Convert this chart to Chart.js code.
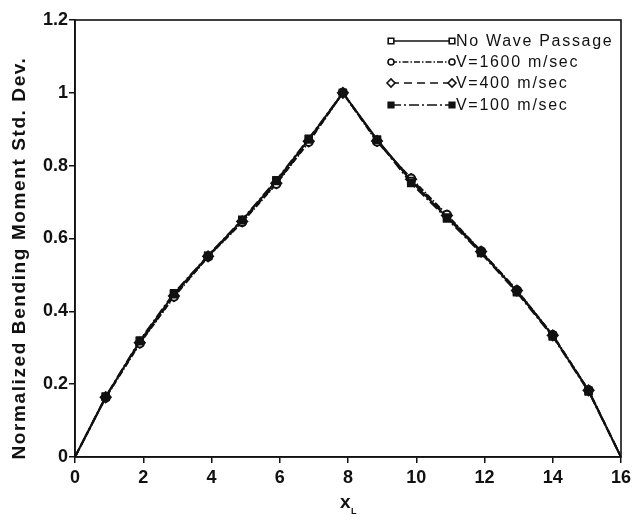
<!DOCTYPE html>
<html>
<head>
<meta charset="utf-8">
<script src="https://cdn.jsdelivr.net/npm/chart.js@4"></script>
<style>
  html, body { margin: 0; padding: 0; background: #fff; }
  #wrap { width: 641px; height: 528px; }
</style>
</head>
<body>
<div id="wrap"><canvas id="myChart" width="641" height="528"></canvas></div>
<script>
// positions along the beam (x/L) and normalized std. dev. per case
const xPos = [0, 0.9, 1.9, 2.9, 3.9, 4.9, 5.9, 6.85, 7.85, 8.85, 9.85, 10.9, 11.9, 12.95, 14.0, 15.05, 16];
const noWave = [0, 0.165, 0.318, 0.447, 0.552, 0.650, 0.758, 0.872, 1.0, 0.872, 0.758, 0.658, 0.563, 0.455, 0.333, 0.182, 0];
const v1600  = [0, 0.163, 0.312, 0.440, 0.550, 0.645, 0.750, 0.865, 1.0, 0.866, 0.765, 0.665, 0.565, 0.458, 0.335, 0.183, 0];
const v400   = [0, 0.164, 0.314, 0.442, 0.551, 0.647, 0.752, 0.867, 1.0, 0.868, 0.763, 0.663, 0.564, 0.457, 0.334, 0.183, 0];
const v100   = [0, 0.166, 0.320, 0.450, 0.553, 0.652, 0.760, 0.874, 1.0, 0.870, 0.752, 0.655, 0.560, 0.452, 0.331, 0.180, 0];
const seriesNames = ['No Wave Passage', 'V=1600 m/sec', 'V=400 m/sec', 'V=100 m/sec'];
const yTicks = [0, 0.2, 0.4, 0.6, 0.8, 1, 1.2];
const xTicks = [0, 2, 4, 6, 8, 10, 12, 14, 16];
const yTitle = 'Normalized Bending Moment Std. Dev.';

const FONT = '"Liberation Sans", Arial, sans-serif';

function toPoints(ys) {
    return xPos.map((x, i) => ({ x: x, y: ys[i] }));
}

const isEnd = (c) => c.dataIndex === 0 || c.dataIndex === xPos.length - 1;

const styles = [
    { dash: [], point: 'rect', fill: '#fff', r: 4.5 },
    { dash: [6, 2, 1.5, 2], point: 'circle', fill: '#fff', r: 4 },
    { dash: [8, 5], point: 'rectRot', fill: '#fff', r: 5 },
    { dash: [10, 3, 2, 3], point: 'rect', fill: '#111', r: 4.5 }
];

const allSeries = [noWave, v1600, v400, v100];

const datasets = allSeries.map((ys, i) => ({
    label: seriesNames[i],
    data: toPoints(ys),
    order: i === 3 ? 0 : i + 1,
    showLine: true,
    borderColor: '#111',
    borderWidth: 2,
    borderDash: styles[i].dash,
    pointStyle: styles[i].point,
    pointRadius: (c) => isEnd(c) ? 0 : styles[i].r,
    pointBackgroundColor: styles[i].fill,
    pointBorderColor: '#111',
    pointBorderWidth: 2
}));

function drawMarker(ctx, st, x, y) {
    const r = st.r - 1;
    ctx.save();
    ctx.setLineDash([]);
    ctx.lineWidth = 1.6;
    ctx.fillStyle = st.fill;
    ctx.strokeStyle = '#111';
    ctx.beginPath();
    if (st.point === 'circle') {
        ctx.arc(x, y, r, 0, Math.PI * 2);
    } else if (st.point === 'rectRot') {
        ctx.moveTo(x - r, y); ctx.lineTo(x, y - r); ctx.lineTo(x + r, y); ctx.lineTo(x, y + r); ctx.closePath();
    } else {
        ctx.rect(x - r * 0.8, y - r * 0.8, r * 1.6, r * 1.6);
    }
    ctx.fill();
    ctx.stroke();
    ctx.restore();
}

// frame, legend and axis titles
const extras = {
    id: 'extras',
    afterDraw(chart) {
        const ctx = chart.ctx;
        const a = chart.chartArea;
        ctx.save();
        ctx.strokeStyle = '#111';
        ctx.lineWidth = 1.6;
        ctx.strokeRect(a.left, a.top, a.right - a.left, a.bottom - a.top);

        // legend
        const x0 = 391, x1 = 452;
        const rows = [41, 62, 83, 105];
        seriesNames.forEach((name, i) => {
            const y = rows[i];
            ctx.save();
            ctx.strokeStyle = '#111';
            ctx.lineWidth = 1.6;
            ctx.setLineDash(styles[i].dash);
            ctx.beginPath();
            ctx.moveTo(x0, y);
            ctx.lineTo(x1, y);
            ctx.stroke();
            ctx.restore();
            drawMarker(ctx, styles[i], x0, y);
            drawMarker(ctx, styles[i], x1, y);
            ctx.fillStyle = '#111';
            ctx.font = '16px ' + FONT;
            ctx.letterSpacing = '1.7px';
            ctx.textBaseline = 'middle';
            ctx.textAlign = 'left';
            ctx.fillText(name, x1 + 4, y + 1);
            ctx.letterSpacing = '0px';
        });

        // y axis title
        ctx.save();
        ctx.translate(20, 258);
        ctx.rotate(-Math.PI / 2);
        ctx.font = 'bold 19px ' + FONT;
        ctx.letterSpacing = '1.6px';
        ctx.textAlign = 'center';
        ctx.textBaseline = 'middle';
        ctx.fillStyle = '#111';
        ctx.fillText(yTitle, 0, 0);
        ctx.restore();

        // x axis title with subscript
        ctx.fillStyle = '#111';
        ctx.font = 'bold 19px ' + FONT;
        ctx.textBaseline = 'alphabetic';
        ctx.textAlign = 'left';
        ctx.fillText('x', 340, 508);
        ctx.font = 'bold 9px ' + FONT;
        ctx.fillText('L', 351, 514);
        ctx.restore();
    }
};

const ctx = document.getElementById('myChart').getContext('2d');
new Chart(ctx, {
    type: 'scatter',
    data: { datasets: datasets },
    options: {
        responsive: false,
        animation: false,
        layout: { padding: { top: 20, right: 20, left: 0, bottom: 0 } },
        plugins: { legend: { display: false }, tooltip: { enabled: false } },
        scales: {
            x: {
                type: 'linear',
                min: 0,
                max: 16,
                afterBuildTicks: (axis) => { axis.ticks = xTicks.map(v => ({ value: v })); },
                afterFit: (axis) => { axis.height = 71; },
                grid: { drawOnChartArea: false, drawTicks: true, tickLength: 6, color: '#111', lineWidth: 1.5 },
                border: { color: '#111', width: 1.6 },
                ticks: { color: '#111', padding: 4, font: { family: FONT, size: 18, weight: 'bold' } }
            },
            y: {
                min: 0,
                max: 1.2,
                afterBuildTicks: (axis) => { axis.ticks = yTicks.map(v => ({ value: v })); },
                afterFit: (axis) => { axis.width = 75; },
                grid: { drawOnChartArea: false, drawTicks: true, tickLength: 6, color: '#111', lineWidth: 1.5 },
                border: { color: '#111', width: 1.6 },
                ticks: {
                    color: '#111',
                    padding: 1,
                    font: { family: FONT, size: 18, weight: 'bold' },
                    callback: (v) => String(v)
                }
            }
        }
    },
    plugins: [extras]
});
</script>
</body>
</html>
